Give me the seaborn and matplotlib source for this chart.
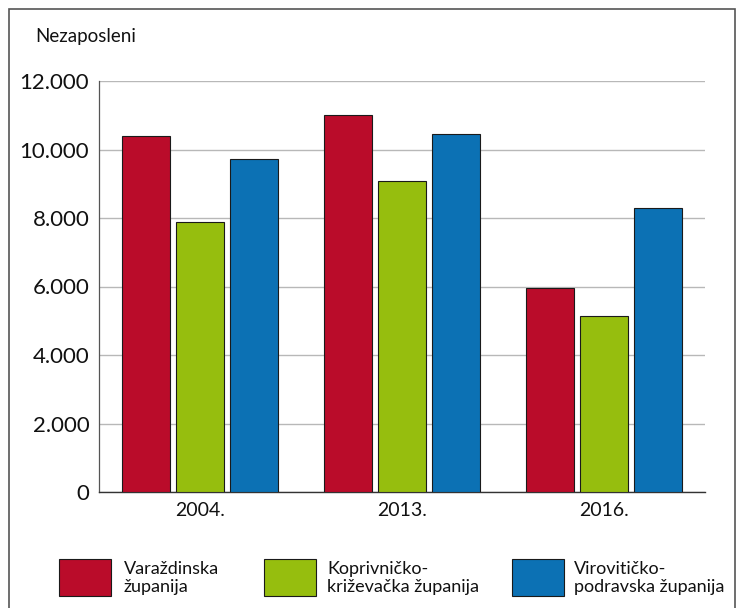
import pandas as pd
import matplotlib.pyplot as plt
import matplotlib.ticker as mticker
from matplotlib.patches import Rectangle
import seaborn as sns

years = ["2004.", "2013.", "2016."]
counties = ["Varaždinska\nžupanija", "Koprivničko-\nkriževačka županija", "Virovitičko-\npodravska županija"]
varazdinska = [10400, 11010, 5960]
koprivnicko = [7880, 9080, 5140]
viroviticko = [9720, 10450, 8290]
colors = ["#BA0C2A", "#96BE0E", "#0C71B4"]

df = pd.DataFrame({
    "godina": years * 3,
    "zupanija": [counties[0]] * 3 + [counties[1]] * 3 + [counties[2]] * 3,
    "nezaposleni": varazdinska + koprivnicko + viroviticko,
})

sns.set_style("white")
plt.rcParams["font.family"] = ["Lato", "DejaVu Sans"]
plt.rcParams["text.color"] = "#111111"
plt.rcParams["xtick.color"] = "#111111"
plt.rcParams["ytick.color"] = "#111111"

W, H = 736, 608
fig = plt.figure(figsize=(W / 100, H / 100), dpi=100)
ax = fig.add_axes([99 / W, 116 / H, 606 / W, 411 / H])

sns.barplot(data=df, x="godina", y="nezaposleni", hue="zupanija", order=years,
            hue_order=counties, palette=colors, saturation=1, width=0.80, gap=0.11,
            edgecolor="#1a1a1a", linewidth=0.8, legend=False, ax=ax, zorder=3)

ax.set_ylim(0, 12000)
ax.set_xlim(-0.5, 2.5)
ax.set_yticks(range(0, 12001, 2000))
ax.yaxis.set_major_formatter(mticker.FuncFormatter(lambda v, p: f"{int(v):,}".replace(",", ".")))
ax.yaxis.grid(True, color="#b8b8b8", linewidth=1.0, zorder=0)
ax.set_axisbelow(True)
ax.set_xlabel("")
ax.set_ylabel("")
ax.tick_params(axis="y", length=0, labelsize=16, pad=7)
ax.tick_params(axis="x", which="major", length=0, labelsize=14, pad=7)
ax.set_xticks([0.5, 1.5, 2.5], minor=True)
ax.tick_params(axis="x", which="minor", length=6.5, width=0.8, color="#444444", direction="in")

for s in ["top", "right"]:
    ax.spines[s].set_visible(False)
ax.spines["left"].set_color("#555555")
ax.spines["left"].set_linewidth(0.9)
ax.spines["bottom"].set_color("#333333")
ax.spines["bottom"].set_linewidth(1.0)

fig.text(35 / W, 1 - 42 / H, "Nezaposleni", fontsize=13.5, ha="left", va="baseline")

# legenda: kvadrati i tekst ispod grafa
leg_x = [59, 264, 512]
txt_x = [124, 327, 574]
for c, lab, px, tx in zip(colors, counties, leg_x, txt_x):
    fig.patches.append(Rectangle((px / W, 1 - 596 / H), 52 / W, 37 / H, transform=fig.transFigure,
                                 facecolor=c, edgecolor="#1a1a1a", linewidth=0.8))
    fig.text(tx / W, 1 - 578 / H, lab, fontsize=13, ha="left", va="center", linespacing=1.1)

fig.patches.append(Rectangle((9 / W, -0.01), 726 / W, 1 - 9 / H + 0.01, transform=fig.transFigure,
                             fill=False, edgecolor="#555555", linewidth=1.2))

fig.savefig("out.png", dpi=100)
